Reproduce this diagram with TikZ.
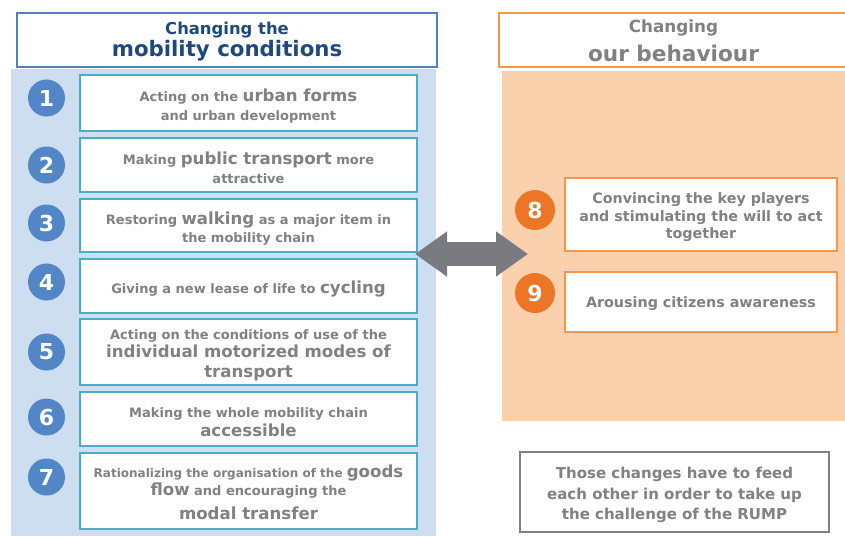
\documentclass[tikz,border=0pt]{standalone}
\usepackage{fontspec}
\setmainfont{DejaVu Sans}
\usetikzlibrary{positioning,calc,arrows.meta}

\definecolor{hdblue}{RGB}{79,129,189}
\definecolor{txblue}{RGB}{31,73,125}
\definecolor{paleblue}{RGB}{205,222,240}
\definecolor{boxcyan}{RGB}{75,172,198}
\definecolor{numblue}{RGB}{82,134,198}
\definecolor{orline}{RGB}{247,150,70}
\definecolor{peach}{RGB}{251,208,172}
\definecolor{numorange}{RGB}{236,118,38}
\definecolor{txgray}{RGB}{128,128,133}
\definecolor{arrgray}{RGB}{122,123,129}

\newcommand{\bigword}[1]{{\fontsize{16.6}{19}\selectfont #1}}

\tikzset{
  hdbox/.style={line width=2pt, fill=white, minimum height=54pt, inner sep=0pt},
  actbox/.style={draw=boxcyan, line width=2.7pt, fill=white, minimum width=337pt, inner sep=0pt},
  orbox/.style={draw=orline, line width=2.7pt, fill=white, minimum width=272pt, inner sep=0pt},
  boxtext/.style={align=center, inner sep=0pt, text=txgray, font=\bfseries\fontsize{13}{18.5}\selectfont},
  numdot/.style={circle, fill=numblue, text=white, minimum size=37pt, inner sep=0pt, font=\bfseries\fontsize{22}{22}\selectfont},
  notebox/.style={draw=txgray, line width=2pt, fill=white, minimum width=309pt, minimum height=80pt, inner sep=0pt}
}

\begin{document}
\begin{tikzpicture}[x=1pt,y=-1pt]
    \useasboundingbox (0,0) rectangle (845,536);
    % draw background panels
    \fill[paleblue] (11,69) rectangle (436,536);
    \fill[peach] (502,71) rectangle (845,421);
    % draw headers
    \node[hdbox, draw=hdblue, minimum width=420pt] (lhead) at (227,40) {};
    \node[boxtext, text=txblue, font=\bfseries\fontsize{16.4}{22}\selectfont] (lheadtxt) at ([yshift=-2pt]lhead.center)
        {Changing the\\{\fontsize{21.3}{22}\selectfont mobility conditions}};
    \node[hdbox, draw=orline, minimum width=349pt] (rhead) at (673.5,40) {};
    \node[boxtext, font=\bfseries\fontsize{16.8}{22}\selectfont] (rheadtxt) at ([yshift=-1pt]rhead.center)
        {Changing\\[7pt]{\fontsize{21.6}{22}\selectfont our behaviour}};
    % draw measure boxes
    \foreach \n/\yc/\h/\dy/\txt in {
        1/103/56/3/{Acting on the \bigword{urban forms}\\[1pt]and urban development},
        2/165/54/3/{Making \bigword{public transport} more\\attractive},
        3/225.5/53/3/{Restoring \bigword{walking} as a major item in\\the mobility chain},
        4/286/54/3/{Giving a new lease of life to \bigword{cycling}},
        5/352/66/3/{Acting on the conditions of use of the\\\bigword{individual motorized modes of}\\[1pt]\bigword{transport}},
        6/419/54/3/{Making the whole mobility chain\\\bigword{accessible}},
        7/491/76/1.5/{\fontsize{12}{18}\selectfont Rationalizing the organisation of the \bigword{goods}\\\bigword{flow} and encouraging the\\[5.5pt]\bigword{modal transfer}}}
    {
        \node[actbox, minimum height=\h pt] (b\n) at (248.5,\yc) {};
        \node[boxtext] (t\n) at ([yshift=-\dy pt]b\n.center) {\txt};
    }
    % draw numbers
    \foreach \n/\yc in {1/98,2/165,3/223,4/282,5/352,6/417,7/477}
        \node[numdot] (n\n) at (46.5,\yc) {\n};
    % draw behaviour boxes
    \node[orbox, minimum height=73pt] (b8) at (701,214.5) {};
    \node[boxtext, font=\bfseries\fontsize{14.3}{17.5}\selectfont] (t8) at ([yshift=-3pt]b8.center)
        {Convincing the key players\\and stimulating the will to act\\together};
    \node[orbox, minimum height=60pt] (b9) at (701,302) {};
    \node[boxtext, font=\bfseries\fontsize{14.3}{17.5}\selectfont] (t9) at ([yshift=-2pt]b9.center) {Arousing citizens awareness};
    \node[numdot, fill=numorange, minimum size=40pt] (n8) at (535,210) {8};
    \node[numdot, fill=numorange, minimum size=40pt] (n9) at (535,293) {9};
    % draw note
    \node[notebox] (note) at (674.5,492) {};
    \node[boxtext, font=\bfseries\fontsize{15}{20.5}\selectfont] (notetxt) at ([yshift=-3pt]note.center)
        {Those changes have to feed\\each other in order to take up\\the challenge of the RUMP};
    % draw double arrow
    \coordinate (arrL) at (415,254);
    \coordinate (arrR) at (528,254);
    \draw[arrgray, line width=24pt, {Triangle[length=32pt,width=43pt]}-{Triangle[length=32pt,width=43pt]}] (arrL) -- (arrR);
\end{tikzpicture}
\end{document}
